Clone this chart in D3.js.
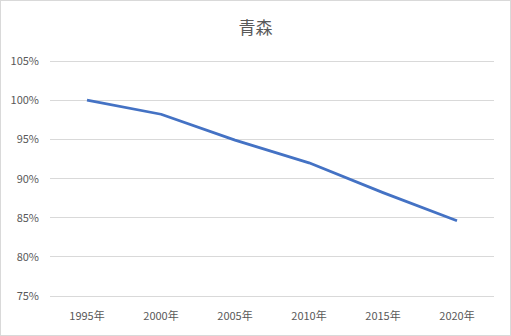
<!DOCTYPE html>
<html><head><meta charset="utf-8">
<script src="https://cdn.jsdelivr.net/npm/d3@7"></script>
<style>body{margin:0;background:#fff}svg{display:block}</style>
</head><body>
<script>
const categories = ["1995年","2000年","2005年","2010年","2015年","2020年"];
const values = [1.000, 0.982, 0.949, 0.920, 0.882, 0.846];
const yTicks = [0.75,0.80,0.85,0.90,0.95,1.00,1.05];
const title = "青森";

const W=511,H=336;
const svg=d3.select("body").append("svg").attr("width",W).attr("height",H);
svg.append("rect").attr("x",0.5).attr("y",0.5).attr("width",W-1).attr("height",H-1)
  .attr("fill","#fff").attr("stroke","#d9d9d9");
const font="'Noto Sans CJK JP','Noto Sans',sans-serif";
svg.append("text").attr("x",W/2).attr("y",34).attr("text-anchor","middle")
  .attr("font-family",font).attr("font-size",17).attr("fill","#595959").text(title);

const x=d3.scaleBand().domain(categories).range([50,494]);
const y=d3.scaleLinear().domain([0.75,1.05]).range([296,61]);

const g=svg.append("g");
g.selectAll("line.grid").data(yTicks).join("line").attr("class","grid")
  .attr("x1",50).attr("x2",494).attr("y1",d=>y(d)).attr("y2",d=>y(d))
  .attr("stroke","#d9d9d9").attr("stroke-width",1).attr("shape-rendering","crispEdges");
g.selectAll("text.yl").data(yTicks).join("text").attr("class","yl")
  .attr("x",39).attr("y",d=>y(d)+4).attr("text-anchor","end")
  .attr("font-family",font).attr("font-size",11).attr("fill","#595959")
  .text(d=>Math.round(d*100)+"%");
g.selectAll("text.xl").data(categories).join("text").attr("class","xl")
  .attr("x",d=>x(d)+x.bandwidth()/2).attr("y",320).attr("text-anchor","middle")
  .attr("font-family",font).attr("font-size",11).attr("fill","#595959").text(d=>d);

const line=d3.line().x((d,i)=>x(categories[i])+x.bandwidth()/2).y(d=>y(d));
svg.append("path").datum(values).attr("d",line).attr("fill","none")
  .attr("stroke","#4472C4").attr("stroke-width",2.75).attr("stroke-linejoin","round");
</script>
</body></html>
